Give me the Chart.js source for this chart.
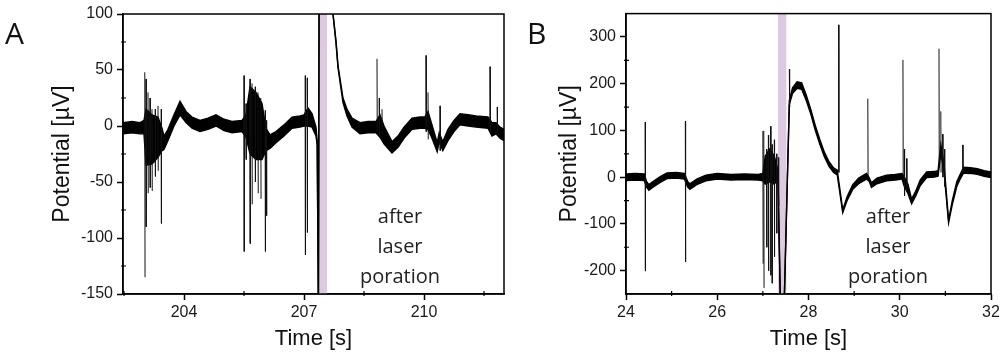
<!DOCTYPE html>
<html>
<head>
<meta charset="utf-8">
<script src="https://cdn.jsdelivr.net/npm/chart.js@4.4.1/dist/chart.umd.min.js"></script>
<style>
body { margin: 0; background: #fff; width: 1003px; height: 352px; overflow: hidden; position: relative; }
canvas { position: absolute; top: 0; }
.lab { position: absolute; font-family: "Open Sans"; font-size: 30px; line-height: 30px; color: #111; }
.note { position: absolute; width: 140px; text-align: center; font-family: "Open Sans"; font-size: 20px; line-height: 30px; color: #222; }
</style>
</head>
<body>
<canvas id="chartA" width="515" height="352" style="left:0"></canvas>
<canvas id="chartB" width="488" height="352" style="left:515px"></canvas>
<div class="lab" style="left:5px;top:18px">A</div>
<div class="lab" style="left:527px;top:18px">B</div>
<div class="note" style="left:330px;top:201px">after<br>laser<br>poration</div>
<div class="note" style="left:818px;top:201px">after<br>laser<br>poration</div>
<script>
// ---- panel A : time [s], potential [uV], noise half-width [uV]
var timeA = [202.475, 202.7, 202.9, 203.0, 203.05, 203.2, 203.35, 203.45, 203.5, 203.6, 203.75, 203.9, 204.05, 204.2, 204.4, 204.6, 204.8, 205.0, 205.2, 205.45, 205.55, 205.65, 205.8, 205.95, 206.05, 206.15, 206.3, 206.5, 206.7, 206.9, 207.0, 207.1, 207.2, 207.3, 207.33, 207.36, 207.38, 207.7, 207.725, 207.8, 207.85, 207.975, 208.075, 208.2, 208.4, 208.6, 208.8, 208.9, 209.0, 209.2, 209.35, 209.5, 209.7, 209.9, 210.02, 210.1, 210.2, 210.33, 210.38, 210.47, 210.6, 210.75, 210.9, 211.1, 211.3, 211.6, 211.7, 211.8, 211.9, 212.0];
var potA = [-2, -1, -2, -1, -10, -12, -10, -12, -15, -8, 5, 16, 8, 3, 0, 2, 5, 1, -1, 0, 0, 5, 0, -5, -12, -14, -10, -4, 3, 4, 5, 8, 5, -5, -15, -165, 160, 150, 100, 75, 53, 23, 12, 3, -2, -1, -1, 0, -8, -19, -14, -6, 2, 3, 3, 5, -5, -19, -10, -18, -8, 0, 6, 5, 4, 3, -3, -2, -6, -8];
var noiseA = [5, 5, 5, 6, 25, 22, 18, 10, 6, 5, 5, 6, 5, 5, 5, 5, 5, 5, 5, 5, 10, 30, 30, 25, 10, 6, 5, 5, 5, 5, 5, 8, 6, 4, 2, 0, 0, 0, 0, 1, 1, 2, 3, 4, 5, 5, 5, 10, 8, 5, 5, 5, 5, 5, 5, 8, 6, 4, 4, 4, 5, 5, 5, 5, 5, 5, 6, 5, 5, 5];
var spikeTimeA = [203.02, 203.05, 203.1, 203.15, 203.2, 203.28, 203.35, 203.43, 205.5, 205.55, 205.65, 205.7, 205.78, 205.85, 205.92, 206.03, 206.06, 207.03, 207.08, 208.825, 208.88, 208.95, 210.05, 210.1, 210.4, 211.65, 211.83];
var spikeHiA = [48, 42, 30, 25, 15, 15, 18, 15, 45, 20, 42, 38, 35, 30, 25, 14, 5, 45, 43, 60, 25, 15, 63, 30, 18, 53, 17];
var spikeLoA = [-135, -90, -60, -55, -58, -45, -40, -87, -112, -30, -105, -70, -50, -60, -65, -112, -80, -115, -95, -5, -10, -12, -5, -12, -22, -5, -5];
var laserA = [207.375, 207.575];
var xTicksA = [204, 207, 210], xMinorA = [202.5, 205.5, 208.5, 211.5];
var yTicksA = [-150, -100, -50, 0, 50, 100], yMinorA = [-125, -75, -25, 25, 75];

// ---- panel B
var timeB = [24.0, 24.2, 24.4, 24.45, 24.5, 24.6, 24.75, 24.9, 25.1, 25.28, 25.35, 25.4, 25.55, 25.75, 26.0, 26.3, 26.6, 26.9, 27.0, 27.05, 27.15, 27.25, 27.33, 27.39, 27.45, 27.47, 27.58, 27.65, 27.75, 27.85, 27.95, 28.05, 28.15, 28.25, 28.35, 28.45, 28.55, 28.63, 28.75, 28.85, 28.97, 29.1, 29.27, 29.33, 29.38, 29.5, 29.71, 29.9, 30.05, 30.1, 30.18, 30.26, 30.35, 30.45, 30.59, 30.75, 30.84, 30.9, 30.97, 31.07, 31.15, 31.25, 31.32, 31.4, 31.55, 31.7, 31.85, 32.0];
var potB = [0, 1, 0, -15, -22, -15, -5, 3, 4, 2, -15, -20, -10, -2, 2, 0, 1, 0, 0, 15, 25, 15, 5, -300, -300, -260, 160, 185, 197, 195, 170, 140, 105, 75, 48, 28, 15, 10, -73, -45, -21, -8, 2, -5, -17, -8, -2, 0, 2, -10, -25, -52, -35, -12, 5, 6, 8, 60, 20, -95, -55, -15, 0, 15, 14, 12, 8, 5];
var noiseB = [7, 7, 7, 6, 6, 6, 6, 6, 6, 6, 6, 6, 6, 6, 6, 6, 6, 6, 8, 30, 35, 30, 10, 0, 0, 0, 4, 6, 7, 7, 6, 5, 5, 5, 5, 5, 5, 5, 3, 4, 5, 6, 6, 4, 5, 6, 6, 6, 6, 10, 10, 5, 5, 6, 6, 6, 6, 10, 8, 3, 4, 5, 5, 6, 6, 6, 6, 6];
var spikeTimeB = [24.42, 25.3, 27.0, 27.02, 27.08, 27.12, 27.17, 27.2, 27.25, 27.3, 27.34, 27.58, 28.66, 29.3, 30.07, 30.1, 30.15, 30.86, 30.9, 30.94, 30.98, 31.38];
var spikeHiB = [118, 120, 99, 99, 60, 90, 109, 70, 80, 50, 42, 231, 326, 168, 251, 60, 40, 275, 141, 92, 60, 69];
var spikeLoB = [-201, -181, -185, -237, -150, -200, -210, -227, -170, -120, -60, 150, 10, -5, 0, -40, -30, 20, 10, 0, -20, 10];
var laserB = [27.33, 27.52];
var xTicksB = [24, 26, 28, 30, 32], xMinorB = [25, 27, 29, 31];
var yTicksB = [-200, -100, 0, 100, 200, 300], yMinorB = [-150, -50, 50, 150, 250];

function envelope(ts, vs, ns, sign) {
    return ts.map(function (t, i) { return { x: t, y: vs[i] + sign * ns[i] }; });
}
function spikes(ts, his, los) {
    var out = [];
    ts.forEach(function (t, i) {
        out.push({ x: t, y: his[i] }, { x: t + 0.006, y: los[i] }, { x: t + 0.006, y: null });
    });
    return out;
}

// box round the plot and the small inner ticks
var framePlugin = {
    id: 'frame',
    afterDatasetsDraw: function (chart, args, opts) {
        var a = chart.chartArea, ctx = chart.ctx;
        var sx = chart.scales.x, sy = chart.scales.y;
        ctx.save();
        ctx.strokeStyle = '#000';
        ctx.lineWidth = 1.5;
        ctx.strokeRect(a.left, a.top, a.right - a.left, a.bottom - a.top);
        ctx.lineWidth = 1.2;
        ctx.beginPath();
        opts.xMinor.forEach(function (v) {
            var p = sx.getPixelForValue(v);
            ctx.moveTo(p, a.bottom - 3); ctx.lineTo(p, a.bottom + 2);
        });
        opts.yMinor.forEach(function (v) {
            var p = sy.getPixelForValue(v);
            ctx.moveTo(a.left - 2, p); ctx.lineTo(a.left + 3, p);
        });
        ctx.stroke();
        ctx.restore();
    }
};

function makeChart(id, d) {
    var tickFont = { family: '"Liberation Sans", Arial, sans-serif', size: 16 };
    return new Chart(document.getElementById(id), {
        type: 'line',
        data: {
            datasets: [
                { data: spikes(d.spT, d.spHi, d.spLo), borderColor: '#111', borderWidth: 1, order: 0 },
                { data: envelope(d.t, d.v, d.n, 1), borderColor: '#000', borderWidth: 1.4, order: 1 },
                { data: envelope(d.t, d.v, d.n, -1), borderColor: '#000', borderWidth: 1.4,
                  backgroundColor: '#000', fill: '-1', order: 1 },
                { data: [{ x: d.laser[0], y: d.yMax }, { x: d.laser[1], y: d.yMax }],
                  fill: 'start', backgroundColor: '#dccbe0', borderWidth: 0, order: 5 }
            ]
        },
        options: {
            responsive: false,
            animation: false,
            devicePixelRatio: 1,
            spanGaps: false,
            elements: { point: { radius: 0 }, line: { tension: 0 } },
            layout: { padding: { top: d.padTop, right: d.padRight, left: 0, bottom: 0 } },
            plugins: {
                legend: { display: false },
                tooltip: { enabled: false },
                frame: { xMinor: d.xMinor, yMinor: d.yMinor }
            },
            scales: {
                x: {
                    type: 'linear', min: d.xMin, max: d.xMax,
                    afterBuildTicks: function (s) { s.ticks = d.xTicks.map(function (v) { return { value: v }; }); },
                    afterFit: function (s) { s.height = 58; },
                    grid: { drawOnChartArea: false, tickLength: 6, tickColor: '#000', tickWidth: 1.5 },
                    border: { color: '#000', width: 1.5 },
                    ticks: { font: tickFont, color: '#1a1a1a', padding: 3, maxRotation: 0, autoSkip: false },
                    title: { display: true, text: 'Time [s]', color: '#111', padding: { top: 0, bottom: 0 },
                             font: { family: '"Liberation Sans", Arial, sans-serif', size: 22 } }
                },
                y: {
                    type: 'linear', min: d.yMin, max: d.yMax,
                    afterBuildTicks: function (s) { s.ticks = d.yTicks.map(function (v) { return { value: v }; }); },
                    afterFit: function (s) { s.width = d.yWidth; },
                    grid: { drawOnChartArea: false, tickLength: 6, tickColor: '#000', tickWidth: 1.5 },
                    border: { color: '#000', width: 1.5 },
                    ticks: { font: tickFont, color: '#1a1a1a', padding: 4, autoSkip: false },
                    title: { display: true, text: 'Potential [\u00b5V]', color: '#111', padding: { top: d.titlePad, bottom: 0 },
                             font: { family: '"Liberation Sans", Arial, sans-serif', size: 23 } }
                }
            }
        },
        plugins: [framePlugin]
    });
}

makeChart('chartA', {
    t: timeA, v: potA, n: noiseA, spT: spikeTimeA, spHi: spikeHiA, spLo: spikeLoA, laser: laserA,
    xMin: 202.475, xMax: 212, yMin: -150, yMax: 100,
    xTicks: xTicksA, xMinor: xMinorA, yTicks: yTicksA, yMinor: yMinorA,
    padTop: 14, padRight: 11, yWidth: 123, titlePad: 49
});
makeChart('chartB', {
    t: timeB, v: potB, n: noiseB, spT: spikeTimeB, spHi: spikeHiB, spLo: spikeLoB, laser: laserB,
    xMin: 24, xMax: 32, yMin: -250, yMax: 350,
    xTicks: xTicksB, xMinor: xMinorB, yTicks: yTicksB, yMinor: yMinorB,
    padTop: 10, padRight: 12, yWidth: 111, titlePad: 41
});
</script>
</body>
</html>
